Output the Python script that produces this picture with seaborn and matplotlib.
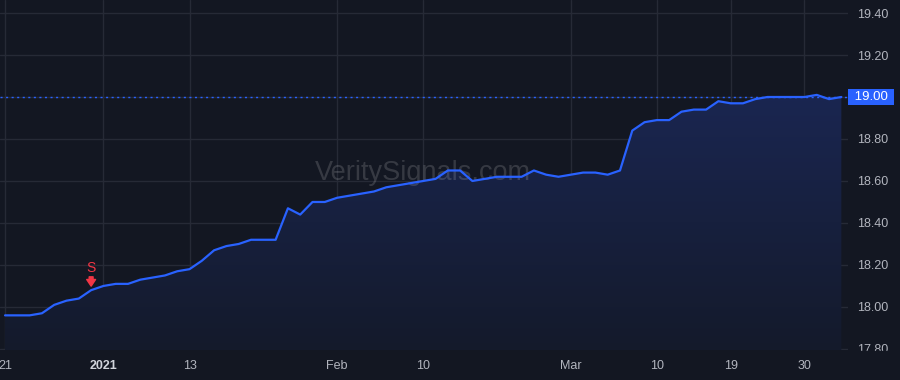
import matplotlib
matplotlib.use("Agg")
import matplotlib.pyplot as plt
from matplotlib.colors import LinearSegmentedColormap
from matplotlib.patches import Rectangle
import numpy as np
import pandas as pd
import seaborn as sns

# ---- data ----
prices = [17.96, 17.96, 17.96, 17.97, 18.01, 18.03, 18.04, 18.08, 18.10, 18.11,
          18.11, 18.13, 18.14, 18.15, 18.17, 18.18, 18.22, 18.27, 18.29, 18.30,
          18.32, 18.32, 18.32, 18.47, 18.44, 18.50, 18.50, 18.52, 18.53, 18.54,
          18.55, 18.57, 18.58, 18.59, 18.60, 18.61, 18.65, 18.65, 18.60, 18.61,
          18.62, 18.62, 18.62, 18.65, 18.63, 18.62, 18.63, 18.64, 18.64, 18.63,
          18.65, 18.84, 18.88, 18.89, 18.89, 18.93, 18.94, 18.94, 18.98, 18.97,
          18.97, 18.99, 19.00, 19.00, 19.00, 19.00, 19.01, 18.99, 19.00]
tick_index = [0, 8, 15, 27, 34, 46, 53, 59, 65]
tick_labels = ["21", "2021", "13", "Feb", "10", "Mar", "10", "19", "30"]
price_ticks = [17.80, 18.00, 18.20, 18.40, 18.60, 18.80, 19.00, 19.20, 19.40]
signal_index = 7
signal_label = "S"
last_price = 19.00
watermark = "VeritySignals.com"

# ---- style ----
BG = "#131722"
GRID = "#262a36"
LINE = "#2962ff"
TEXT = "#b2b5be"
RED = "#f23645"

sns.set_theme(style="dark")
plt.rcParams["font.family"] = ["Liberation Sans", "DejaVu Sans"]

fig = plt.figure(figsize=(9, 3.8), dpi=100, facecolor=BG)
ax = fig.add_axes([0, 30 / 380, 848 / 900, 350 / 380])
ax.set_facecolor(BG)

df = pd.DataFrame({"idx": np.arange(len(prices)), "price": prices})

ymin, ymax = 17.795, 19.462

# gradient area fill
poly = ax.fill_between(df["idx"], df["price"], ymin, color="none", lw=0)
cmap = LinearSegmentedColormap.from_list("g", ["#141a2b", "#1a2651"])
grad = np.linspace(0, 1, 256).reshape(-1, 1)
im = ax.imshow(grad, cmap=cmap, aspect="auto", origin="lower",
               extent=[df["idx"].min(), df["idx"].max(), ymin, max(prices)],
               zorder=1, interpolation="bicubic")
im.set_clip_path(poly.get_paths()[0], transform=ax.transData)

# watermark
ax.text(0.499, 0.506, watermark, transform=ax.transAxes, ha="center", va="center",
        fontsize=19.5, color="white", alpha=0.15, zorder=2)

# last-price dotted line
ax.axhline(last_price, color=LINE, lw=1, linestyle=(0, (1.5, 2.5)), zorder=3)

# main line
sns.lineplot(data=df, x="idx", y="price", ax=ax, color=LINE, linewidth=1.6, zorder=4)

ax.set_xlim(-0.41, 68.54)
ax.set_ylim(ymin, ymax)

# signal marker
sv = prices[signal_index]
ax.annotate("", xy=(signal_index, sv), xytext=(0, 9.6), textcoords="offset points",
            arrowprops=dict(arrowstyle="simple,head_length=0.6,head_width=0.8,tail_width=0.35",
                            color=RED, shrinkA=0, shrinkB=2.9, mutation_scale=8), zorder=5)
ax.annotate(signal_label, xy=(signal_index, sv), xytext=(0, 15.8), textcoords="offset points",
            ha="center", va="center", color=RED, fontsize=10, zorder=5)

# axes / ticks
ax.grid(True, color=GRID, linewidth=1)
for s in ax.spines.values():
    s.set_visible(False)
ax.set_xlabel("")
ax.set_ylabel("")
ax.yaxis.tick_right()
ax.set_yticks(price_ticks)
ax.set_yticklabels(["" if abs(v - last_price) < 1e-9 else f"{v:.2f}" for v in price_ticks])
ax.tick_params(axis="y", length=0, pad=6.5, labelsize=9, labelcolor=TEXT)
ax.set_xticks(tick_index)
ax.set_xticklabels(tick_labels)
ax.tick_params(axis="x", length=0, pad=7.5, labelsize=9, labelcolor=TEXT)
for lbl in ax.get_xticklabels():
    if lbl.get_text() == "2021":
        lbl.set_fontweight("bold")
        lbl.set_color("#d1d4dc")

# last price badge
ax.annotate(f" {last_price:.2f} ", xy=(1.0, last_price), xycoords=ax.get_yaxis_transform(),
            xytext=(2.0, 0), textcoords="offset points", ha="left", va="center",
            fontsize=9.5, color="white", annotation_clip=False, zorder=6,
            bbox=dict(boxstyle="square,pad=0.18", fc=LINE, ec="none"))

# hide the bottom part of the price scale (clipped 17.80 label)
fig.patches.append(Rectangle((848 / 900, 0), 52 / 900, 29 / 380, transform=fig.transFigure,
                             color=BG, zorder=10))

fig.savefig("out.png", dpi=100, facecolor=BG)
